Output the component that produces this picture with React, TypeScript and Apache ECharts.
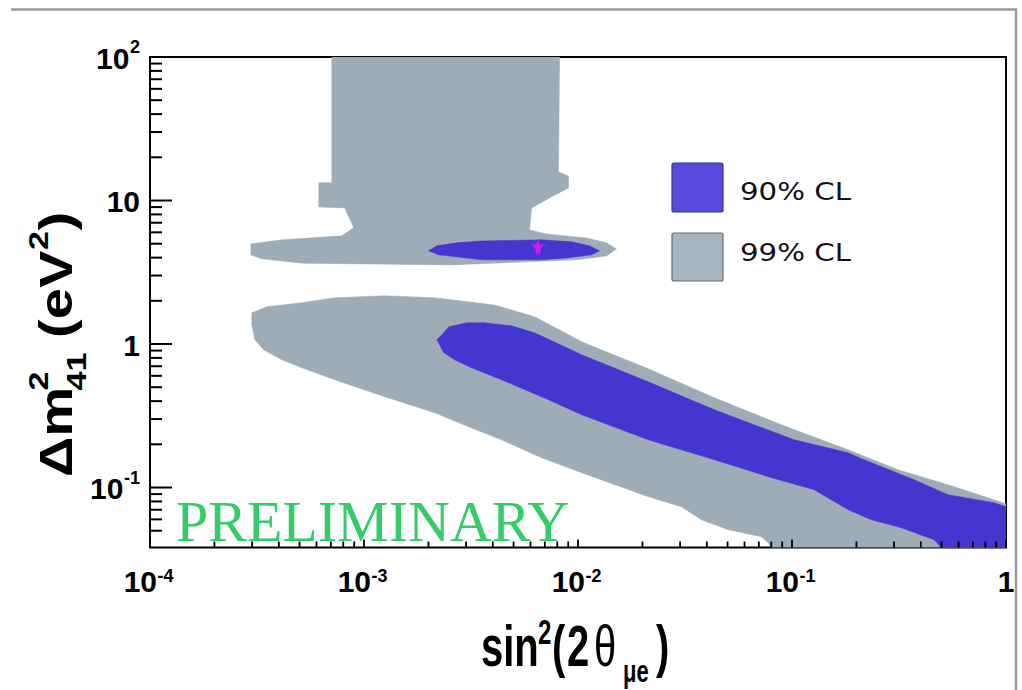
import React, { useEffect, useRef } from 'react';
import * as echarts from 'echarts';

// ---- axis ranges & tick labels ----
const X_MIN = 1e-4;
const X_MAX = 1;
const Y_MIN = 0.0382;
const Y_MAX = 100;
const xMajorTicks = [1e-4, 1e-3, 1e-2, 1e-1, 1];
const xTickLabels = ['10^-4', '10^-3', '10^-2', '10^-1', '1'];
const yMajorTicks = [0.1, 1, 10, 100];
const yTickLabels = ['10^-1', '1', '10', '10^2'];

// ---- allowed regions (boundary points: [sin^2(2θ), Δm^2]) ----
const upper99: [number, number][] = [
  [7.07e-4, 100], [8.2e-3, 100], [8.11e-3, 15.8], [9.03e-3, 14.8], [9.03e-3, 12.2],
  [7.77e-3, 10.9], [6.07e-3, 8.88], [5.94e-3, 6.24], [7.13e-3, 5.85], [1.096e-2, 5.49],
  [1.358e-2, 5.07], [1.512e-2, 4.6], [1.358e-2, 4.11], [9.84e-3, 3.86], [2.57e-3, 3.56],
  [5.12e-4, 3.66], [3.33e-4, 3.92], [2.96e-4, 4.18], [2.96e-4, 4.99], [4.13e-4, 5.32],
  [7.87e-4, 5.67], [8.96e-4, 6.45], [8.13e-4, 8.88], [6.15e-4, 9.02], [6.15e-4, 13.3],
  [7.07e-4, 13.3],
];
const upper90: [number, number][] = [
  [2.0e-3, 4.46], [2.19e-3, 4.83], [2.71e-3, 5.07], [3.55e-3, 5.23], [6.76e-3, 5.32],
  [9.33e-3, 5.15], [1.13e-2, 4.83], [1.26e-2, 4.46], [1.16e-2, 4.18], [8.84e-3, 3.98],
  [6.76e-3, 3.86], [3.55e-3, 3.86], [2.71e-3, 4.05], [2.23e-3, 4.18],
];
const lower99: [number, number][] = [
  [2.99e-4, 1.65], [3.52e-4, 1.82], [5.12e-4, 1.94], [7.3e-4, 2.1], [1.25e-3, 2.17],
  [2.14e-3, 2.1], [4.08e-3, 1.87], [6.27e-3, 1.55], [1.04e-2, 1.036], [2.13e-2, 0.672],
  [4.34e-2, 0.422], [8.91e-2, 0.274], [0.183, 0.183], [0.313, 0.133], [0.536, 0.1046],
  [0.879, 0.0822], [1, 0.0771], [1, 0.0382], [8.0e-2, 0.0382], [7.74e-2, 0.0413],
  [7.19e-2, 0.0454], [5.04e-2, 0.0508], [3.77e-2, 0.0597], [3.04e-2, 0.0735],
  [2.13e-2, 0.0863], [1.04e-2, 0.1268], [6.76e-3, 0.161], [4.39e-3, 0.215],
  [3.08e-3, 0.265], [2.14e-3, 0.332], [1.25e-3, 0.429], [7.3e-4, 0.563], [5.12e-4, 0.683],
  [4.13e-4, 0.776], [3.4e-4, 0.911], [3.09e-4, 1.07], [2.99e-4, 1.36],
];
const lower90: [number, number][] = [
  [2.19e-3, 1.07], [2.31e-3, 1.159], [2.49e-3, 1.318], [3.02e-3, 1.405], [3.66e-3, 1.405],
  [4.89e-3, 1.339], [6.27e-3, 1.197], [1.04e-2, 0.841], [2.13e-2, 0.545], [4.34e-2, 0.348],
  [0.1024, 0.215], [0.183, 0.1747], [0.2174, 0.156], [0.372, 0.1133], [0.536, 0.0891],
  [0.879, 0.0784], [1, 0.0735], [1, 0.0382], [0.497, 0.0382], [0.461, 0.0433],
  [0.3236, 0.0525], [0.2344, 0.0597], [0.183, 0.07], [0.127, 0.0965], [7.74e-2, 0.119],
  [4.34e-2, 0.156], [2.13e-2, 0.215], [1.04e-2, 0.321], [7.28e-3, 0.409], [4.39e-3, 0.563],
  [3.18e-3, 0.683], [2.65e-3, 0.776], [2.36e-3, 0.868],
];
const bestFit: [number, number][] = [[6.5e-3, 4.68]];
const legendLabels = ['90% CL', '99% CL'];

const BLUE = '#4436ce';
const GREY = '#9eacb8';
const SANS = "'Liberation Sans', Arial, Helvetica, sans-serif";
const BASE_FS = 30;
const SUP_FS = 18;

function minorTicks(lo: number, hi: number): number[] {
  const out: number[] = [];
  for (let k = Math.floor(Math.log10(lo)); k <= Math.ceil(Math.log10(hi)); k++) {
    for (let m = 2; m <= 9; m++) {
      const v = m * Math.pow(10, k);
      if (v > lo * 1.08 && v < hi) out.push(v);
    }
  }
  return out;
}

function supWidth(s: string): number {
  let w = 0;
  for (const ch of s) w += ch === '-' ? 0.333 : 0.556;
  return w * SUP_FS;
}

function lbl(text: string, x: number, y: number, size: number, align: string) {
  return {
    type: 'text',
    x,
    y,
    style: { text, fontSize: size, fontWeight: 'bold', fontFamily: SANS, fill: '#000', align, verticalAlign: 'middle' },
  };
}

function polySeries(name: string, pts: [number, number][], color: string) {
  return {
    type: 'custom',
    name,
    coordinateSystem: 'cartesian2d',
    clip: true,
    silent: true,
    data: [pts[0]],
    renderItem: (_p: any, api: any) => ({
      type: 'polygon',
      shape: { points: pts.map((p) => api.coord(p)) },
      style: { fill: color, stroke: color, lineWidth: 0.5 },
    }),
  };
}

function txt(text: string, x: number, y: number, size: number, weight = 'bold', family = SANS) {
  return {
    type: 'text',
    x,
    y,
    style: { text, fontSize: size, fontWeight: weight, fontFamily: family, fill: '#000', align: 'left', verticalAlign: 'middle' },
  };
}

export default function App() {
  const ref = useRef<HTMLDivElement>(null);
  useEffect(() => {
    if (!ref.current) return;
    const chart = echarts.init(ref.current, null, { renderer: 'svg' });

    const xTickData = [
      ...xMajorTicks.map((v) => [v, Y_MIN, 1]),
      ...minorTicks(X_MIN, X_MAX).map((v) => [v, Y_MIN, 0]),
    ];
    const yTickData = [
      ...yMajorTicks.map((v) => [X_MIN, v, 1]),
      ...minorTicks(Y_MIN, Y_MAX).map((v) => [X_MIN, v, 0]),
    ];

    const option: any = {
      animation: false,
      backgroundColor: '#fff',
      grid: {
        show: true,
        borderColor: '#000',
        borderWidth: 2,
        left: 150,
        right: 16,
        top: 57,
        bottom: 142.5,
        containLabel: false,
      },
      xAxis: {
        type: 'log',
        logBase: 10,
        min: X_MIN,
        max: X_MAX,
        axisLine: { show: false },
        axisTick: { show: false },
        splitLine: { show: false },
        axisLabel: { show: false },
      },
      yAxis: {
        type: 'log',
        logBase: 10,
        min: Y_MIN,
        max: Y_MAX,
        axisLine: { show: false },
        axisTick: { show: false },
        splitLine: { show: false },
        axisLabel: { show: false },
      },
      series: [
        polySeries('99% CL low', lower99, GREY),
        polySeries('90% CL low', lower90, BLUE),
        polySeries('99% CL high', upper99, GREY),
        polySeries('90% CL high', upper90, BLUE),
        {
          type: 'scatter',
          data: bestFit,
          symbol: 'path://M0,-10L3,-3L10,-5L4,1.5L2,10L0,4.5L-2,10L-4,1.5L-10,-5L-3,-3Z',
          symbolSize: [13, 17],
          itemStyle: { color: '#ff10ff' },
          silent: true,
          z: 4,
        },
        // bottom-axis ticks
        {
          type: 'custom',
          coordinateSystem: 'cartesian2d',
          clip: false,
          silent: true,
          z: 5,
          data: xTickData,
          renderItem: (_p: any, api: any) => {
            const p = api.coord([api.value(0), api.value(1)]);
            const len = api.value(2) ? 8 : 6;
            return {
              type: 'line',
              shape: { x1: p[0], y1: p[1], x2: p[0], y2: p[1] - len },
              style: { stroke: '#000', lineWidth: 1.8 },
            };
          },
        },
        // left-axis ticks
        {
          type: 'custom',
          coordinateSystem: 'cartesian2d',
          clip: false,
          silent: true,
          z: 5,
          data: yTickData,
          renderItem: (_p: any, api: any) => {
            const p = api.coord([api.value(0), api.value(1)]);
            const len = api.value(2) ? 22 : 12;
            return {
              type: 'line',
              shape: { x1: p[0], y1: p[1], x2: p[0] + len, y2: p[1] },
              style: { stroke: '#000', lineWidth: 2 },
            };
          },
        },
        // bottom-axis labels
        {
          type: 'custom',
          coordinateSystem: 'cartesian2d',
          clip: false,
          silent: true,
          z: 6,
          data: xMajorTicks.map((v, i) => [v, Y_MIN, i]),
          renderItem: (_p: any, api: any) => {
            const p = api.coord([api.value(0), api.value(1)]);
            const parts = xTickLabels[api.value(2)].split('^');
            const yb = p[1] + 34;
            if (parts.length === 1) {
              return { type: 'group', children: [lbl(parts[0], p[0], yb, BASE_FS, 'center')] };
            }
            return {
              type: 'group',
              children: [
                lbl(parts[0], p[0] + 7, yb, BASE_FS, 'right'),
                lbl(parts[1], p[0] + 7.5, yb - 6, SUP_FS, 'left'),
              ],
            };
          },
        },
        // left-axis labels
        {
          type: 'custom',
          coordinateSystem: 'cartesian2d',
          clip: false,
          silent: true,
          z: 6,
          data: yMajorTicks.map((v, i) => [X_MIN, v, i]),
          renderItem: (_p: any, api: any) => {
            const p = api.coord([api.value(0), api.value(1)]);
            const parts = yTickLabels[api.value(2)].split('^');
            const xr = p[0] - 10;
            const yc = p[1] + 1;
            if (parts.length === 1) {
              return { type: 'group', children: [lbl(parts[0], xr, yc, BASE_FS, 'right')] };
            }
            const sw = supWidth(parts[1]);
            return {
              type: 'group',
              children: [
                lbl(parts[0], xr - sw - 0.5, yc, BASE_FS, 'right'),
                lbl(parts[1], xr, yc - 11, SUP_FS, 'right'),
              ],
            };
          },
        },
      ],
      graphic: [
        { type: 'line', z: 10, shape: { x1: 11, y1: 9.5, x2: 1017, y2: 9.5 }, style: { stroke: '#9a9a9a', lineWidth: 2.5 } },
        { type: 'line', z: 10, shape: { x1: 1016, y1: 9, x2: 1016, y2: 690 }, style: { stroke: '#9a9a9a', lineWidth: 2.5 } },
        // legend
        { type: 'rect', z: 20, shape: { x: 672, y: 163, width: 51, height: 49, r: 2 }, style: { fill: '#584bdc', stroke: '#3b3399', lineWidth: 1.2 } },
        { type: 'rect', z: 20, shape: { x: 672, y: 233, width: 51, height: 48, r: 2 }, style: { fill: '#a8b4be', stroke: '#666c72', lineWidth: 1.2 } },
        {
          type: 'text', z: 20, x: 740, y: 191, scaleX: 1.17,
          style: { text: legendLabels[0], fontSize: 25, fontFamily: "'DejaVu Sans', sans-serif", fill: '#111', align: 'left', verticalAlign: 'middle' },
        },
        {
          type: 'text', z: 20, x: 740, y: 252, scaleX: 1.17,
          style: { text: legendLabels[1], fontSize: 25, fontFamily: "'DejaVu Sans', sans-serif", fill: '#111', align: 'left', verticalAlign: 'middle' },
        },
        // PRELIMINARY
        {
          type: 'text', z: 20, x: 176, y: 521,
          style: { text: 'PRELIMINARY', fontSize: 58, fontFamily: "'Liberation Serif', 'Times New Roman', serif", fill: '#33cc66', align: 'left', verticalAlign: 'middle' },
        },
        // x title
        {
          type: 'group', x: 481, y: 666, scaleY: 1.45,
          children: [
            txt('sin', 0, -13.9, 40),
            txt('2', 57, -23.4, 24),
            txt('(', 71, -13.9, 40),
            txt('2', 86, -13.9, 40),
            txt('θ', 113, -13.9, 40, 'normal'),
            txt('μe', 142, 3.5, 22),
            txt(')', 175, -13.9, 40),
          ],
        },
        // y title
        {
          type: 'group', x: 72, y: 477, rotation: Math.PI / 2, scaleX: 1.22,
          children: [
            txt('Δm', 0, -15.9, 46),
            txt('2', 71, -33, 28),
            txt('41', 71, 5, 28),
            txt('(eV', 114, -15.9, 46),
            txt('2', 186, -33, 28),
            txt(')', 202, -15.9, 46),
          ],
        },
      ],
    };

    chart.setOption(option);
    return () => chart.dispose();
  }, []);

  return (
    <div
      ref={ref}
      style={{ position: 'fixed', left: 0, top: 0, width: 1022, height: 690, background: '#fff' }}
    />
  );
}
